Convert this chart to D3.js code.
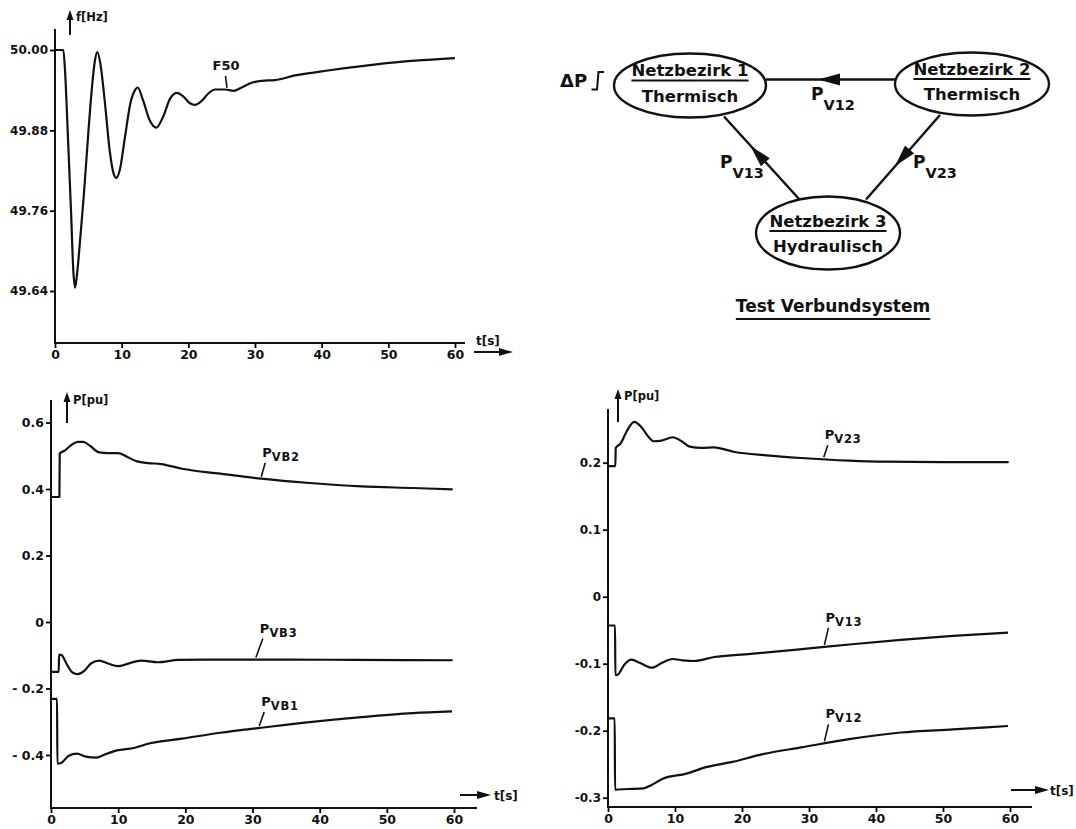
<!DOCTYPE html>
<html>
<head>
<meta charset="utf-8">
<script src="https://cdn.jsdelivr.net/npm/d3@7"></script>
<style>
  body { margin: 0; background: #fff; }
  svg { display: block; background: #fff; }
  text { font-family: "DejaVu Sans", sans-serif; font-weight: bold; fill: #111; }
</style>
</head>
<body>
<svg id="chart" width="1076" height="829"></svg>
<script>
// ---------- data ----------
const timeTicks = [0, 10, 20, 30, 40, 50, 60];

const freqTicks = [50.00, 49.88, 49.76, 49.64];
const freqTickLabels = ["50.00", "49.88", "49.76", "49.64"];

const loadTicks = [0.6, 0.4, 0.2, 0, -0.2, -0.4];
const loadTickLabels = ["0.6", "0.4", "0.2", "0", "- 0.2", "- 0.4"];

const tieTicks = [0.2, 0.1, 0, -0.1, -0.2, -0.3];
const tieTickLabels = ["0.2", "0.1", "0", "-0.1", "-0.2", "-0.3"];

// frequency F50 [t (s), f (Hz)]
const f50 = [[0, 50.0], [1.25, 50.0], [1.5, 49.97], [1.9, 49.88], [2.4, 49.76], [2.75, 49.67],
  [3.0, 49.645], [3.3, 49.665], [3.8, 49.72], [4.3, 49.78], [5.1, 49.89], [5.6, 49.95],
  [6.0, 49.985], [6.35, 49.997], [6.8, 49.98], [7.5, 49.92], [8.2, 49.85], [8.8, 49.815],
  [9.2, 49.809], [9.7, 49.82], [10.5, 49.87], [11.3, 49.92], [12.0, 49.94], [12.4, 49.944],
  [13.2, 49.925], [14.2, 49.895], [15.2, 49.884], [16.2, 49.90], [17.3, 49.928], [18.3, 49.936],
  [19.3, 49.93], [20.3, 49.92], [21.0, 49.918], [22.0, 49.924], [23.0, 49.935], [24.0, 49.941],
  [25.5, 49.941], [26.8, 49.939], [28.0, 49.944], [29.5, 49.951], [31.0, 49.954], [33.0, 49.955],
  [36.0, 49.962], [40.0, 49.968], [43.5, 49.973], [48.5, 49.979], [54.0, 49.984], [60.0, 49.988]];

// district powers [t (s), P (pu)]
const pvb2 = [[0, 0.376], [1.25, 0.376], [1.3, 0.507], [2.0, 0.515], [3.0, 0.532], [4.0, 0.542],
  [4.8, 0.542], [5.8, 0.53], [7.2, 0.510], [8.5, 0.508], [10.0, 0.508], [11.3, 0.497],
  [12.8, 0.483], [14.5, 0.478], [16.4, 0.475], [19.5, 0.461], [25.2, 0.446], [31.3, 0.431],
  [38.5, 0.418], [46.2, 0.408], [53.9, 0.403], [59.8, 0.399]];
const pvb3 = [[0, -0.150], [1.15, -0.150], [1.2, -0.098], [1.6, -0.100], [2.3, -0.125],
  [3.2, -0.152], [4.0, -0.157], [4.9, -0.148], [6.0, -0.124], [7.2, -0.116], [8.5, -0.125],
  [10.0, -0.133], [11.5, -0.125], [13.4, -0.116], [15.9, -0.121], [19.0, -0.114], [25, -0.113],
  [35, -0.113], [45, -0.114], [59.8, -0.115]];
const pvb1 = [[0, -0.231], [0.9, -0.231], [0.95, -0.426], [1.5, -0.424], [2.6, -0.403],
  [3.85, -0.396], [5.2, -0.405], [6.7, -0.408], [8.2, -0.397], [9.8, -0.386], [11.8, -0.381],
  [14.9, -0.364], [19.5, -0.351], [25.2, -0.333], [31.3, -0.318], [38.5, -0.301], [46.2, -0.286],
  [53.9, -0.274], [59.7, -0.269]];

// tie-line powers [t (s), P (pu)]
const pv23 = [[0, 0.195], [1.1, 0.195], [1.15, 0.222], [1.9, 0.229], [2.8, 0.247], [3.9, 0.261],
  [5.0, 0.253], [6.0, 0.239], [6.8, 0.232], [8.0, 0.233], [9.65, 0.238], [11.0, 0.232],
  [12.2, 0.224], [14.0, 0.222], [15.8, 0.223], [18.9, 0.216], [23.6, 0.211], [28.8, 0.207],
  [36, 0.203], [41, 0.2015], [50, 0.201], [59.8, 0.201]];
const pv13 = [[0, -0.043], [1.05, -0.043], [1.1, -0.117], [1.5, -0.116], [2.4, -0.102],
  [3.5, -0.094], [4.8, -0.099], [6.6, -0.106], [8.0, -0.099], [9.65, -0.093], [11.2, -0.095],
  [12.75, -0.096], [15.85, -0.090], [20.5, -0.086], [28.2, -0.079], [36, -0.0713],
  [43.7, -0.0645], [51.5, -0.0585], [59.7, -0.0536]];
const pv12 = [[0, -0.1815], [1.0, -0.1815], [1.05, -0.288], [3, -0.287], [5.3, -0.286],
  [6.5, -0.281], [8.1, -0.272], [11.7, -0.264], [14.8, -0.254], [18.4, -0.247], [23.1, -0.235],
  [28.8, -0.225], [36, -0.2125], [43.7, -0.2027], [51.5, -0.198], [59.7, -0.193]];

// network diagram texts
const districtNames = ["Netzbezirk 1", "Netzbezirk 2", "Netzbezirk 3"];
const districtTypes = ["Thermisch", "Thermisch", "Hydraulisch"];
const tieLineNames = ["V12", "V13", "V23"];
const systemTitle = "Test Verbundsystem";

// ---------- drawing ----------
const svg = d3.select("#chart");
const INK = "#111";

function arrowHead(g, tipX, tipY, fromX, fromY, len, halfW) {
  const dx = tipX - fromX, dy = tipY - fromY, L = Math.hypot(dx, dy);
  const ux = dx / L, uy = dy / L;
  const bx = tipX - ux * len, by = tipY - uy * len;
  g.append("path")
    .attr("d", `M${tipX},${tipY}L${bx - uy * halfW},${by + ux * halfW}L${bx + uy * halfW},${by - ux * halfW}Z`)
    .attr("fill", INK);
}

function interp(series, t) {
  for (let i = 1; i < series.length; i++) {
    if (series[i][0] >= t) {
      const [t0, v0] = series[i - 1], [t1, v1] = series[i];
      return v0 + (v1 - v0) * (t - t0) / (t1 - t0);
    }
  }
  return series[series.length - 1][1];
}

function drawPanel(p) {
  const x = d3.scaleLinear([0, 60], [p.x0, p.x1]);
  const y = d3.scaleLinear(p.yDomain, p.yRange);
  const g = svg.append("g");

  // axis lines
  g.append("line").attr("x1", p.x0).attr("x2", p.x0).attr("y1", p.yTop).attr("y2", p.axisY + 1)
    .attr("stroke", INK).attr("stroke-width", 2);
  g.append("line").attr("x1", p.x0 - 1).attr("x2", p.xEnd).attr("y1", p.axisY).attr("y2", p.axisY)
    .attr("stroke", INK).attr("stroke-width", 2);

  const yAxis = d3.axisLeft(y).tickValues(p.yTicks)
    .tickFormat((d, i) => p.yLabels[i]).tickSize(5).tickPadding(2);
  g.append("g").attr("transform", `translate(${p.x0},0)`).call(yAxis)
    .call(s => s.select(".domain").remove())
    .call(s => s.selectAll("line").attr("stroke-width", 1.8))
    .call(s => s.selectAll("text").attr("font-size", p.tickFont).attr("font-family", "DejaVu Sans")
      .attr("font-weight", "bold").style("fill", INK));

  const xAxis = d3.axisBottom(x).tickValues(timeTicks).tickSize(5).tickPadding(2);
  g.append("g").attr("transform", `translate(0,${p.axisY})`).call(xAxis)
    .call(s => s.select(".domain").remove())
    .call(s => s.selectAll("line").attr("stroke-width", 1.8))
    .call(s => s.selectAll("text").attr("font-size", 12.5).attr("font-family", "DejaVu Sans")
      .attr("font-weight", "bold").style("fill", INK));

  // y-axis quantity with upward arrow
  g.append("line").attr("x1", p.yArrowX).attr("x2", p.yArrowX)
    .attr("y1", p.yArrowY0).attr("y2", p.yArrowY1 + 6)
    .attr("stroke", INK).attr("stroke-width", 2);
  arrowHead(g, p.yArrowX, p.yArrowY1, p.yArrowX, p.yArrowY0, 10, 3.5);
  g.append("text").attr("x", p.yArrowX + 6).attr("y", p.yLabelY)
    .attr("font-size", 11.5).text(p.yTitle);

  // time arrow
  g.append("line").attr("x1", p.tArrowX0).attr("x2", p.tArrowX1 - 8)
    .attr("y1", p.tArrowY).attr("y2", p.tArrowY).attr("stroke", INK).attr("stroke-width", 2);
  arrowHead(g, p.tArrowX1, p.tArrowY, p.tArrowX0, p.tArrowY, 14, 4);
  g.append("text").attr("x", p.tLabelX).attr("y", p.tLabelY).attr("font-size", 12).text("t[s]");

  const line = d3.line().x(d => x(d[0])).y(d => y(d[1])).curve(d3.curveMonotoneX);
  p.series.forEach(s => {
    g.append("path").datum(s.data).attr("d", line)
      .attr("fill", "none").attr("stroke", INK).attr("stroke-width", 2.2)
      .attr("stroke-linejoin", "round");

    // leader line and name
    const bx = x(s.labelT), by = y(interp(s.data, s.labelT)) - 2;
    const tx = bx + s.lean, ty = by - s.rise;
    g.append("line").attr("x1", bx).attr("y1", by).attr("x2", tx).attr("y2", ty)
      .attr("stroke", INK).attr("stroke-width", 1.6);
    const t = g.append("text").attr("x", tx + s.dx).attr("y", ty - 6).attr("font-size", 13);
    t.append("tspan").text(s.main);
    if (s.sub) t.append("tspan").attr("dy", 4).attr("font-size", 11.5)
      .attr("letter-spacing", 0.8).text(s.sub);
  });
}

// frequency panel
drawPanel({
  x0: 55, x1: 455, xEnd: 465, axisY: 343, yTop: 29,
  yDomain: [49.64, 50.00], yRange: [291, 50],
  yTicks: freqTicks, yLabels: freqTickLabels, tickFont: 12,
  yArrowX: 70, yArrowY0: 35, yArrowY1: 10, yLabelY: 21, yTitle: "f[Hz]",
  tArrowX0: 474, tArrowX1: 513, tArrowY: 352, tLabelX: 476, tLabelY: 345,
  series: [{ data: f50, labelT: 25.8, lean: -1.5, rise: 12, dx: -13, main: "F50" }]
});

// district power panel
drawPanel({
  x0: 51, x1: 454, xEnd: 477, axisY: 808, yTop: 400,
  yDomain: [-0.4, 0.6], yRange: [755, 422.5],
  yTicks: loadTicks, yLabels: loadTickLabels, tickFont: 12.5,
  yArrowX: 67, yArrowY0: 423, yArrowY1: 392, yLabelY: 404, yTitle: "P[pu]",
  tArrowX0: 460, tArrowX1: 491, tArrowY: 795, tLabelX: 494, tLabelY: 800,
  series: [
    { data: pvb2, labelT: 31.3, lean: 4, rise: 14, dx: -3, main: "P", sub: "VB2" },
    { data: pvb3, labelT: 30.5, lean: 7, rise: 19, dx: -3, main: "P", sub: "VB3" },
    { data: pvb1, labelT: 31.0, lean: 5, rise: 14, dx: -3, main: "P", sub: "VB1" }
  ]
});

// tie-line power panel
drawPanel({
  x0: 608, x1: 1010, xEnd: 1032, axisY: 807, yTop: 409,
  yDomain: [-0.3, 0.2], yRange: [797.7, 462.7],
  yTicks: tieTicks, yLabels: tieTickLabels, tickFont: 12,
  yArrowX: 618, yArrowY0: 422, yArrowY1: 389, yLabelY: 400, yTitle: "P[pu]",
  tArrowX0: 1011, tArrowX1: 1049, tArrowY: 790, tLabelX: 1050, tLabelY: 795,
  series: [
    { data: pv23, labelT: 32.2, lean: 4, rise: 12, dx: -3, main: "P", sub: "V23" },
    { data: pv13, labelT: 32.3, lean: 4, rise: 17, dx: -3, main: "P", sub: "V13" },
    { data: pv12, labelT: 32.3, lean: 4, rise: 17, dx: -3, main: "P", sub: "V12" }
  ]
});

// ---------- network diagram ----------
const dg = svg.append("g");
const nodes = [
  { cx: 690, cy: 85.5, rx: 76, ry: 32 },
  { cx: 972, cy: 84, rx: 77, ry: 31.5 },
  { cx: 828, cy: 233, rx: 72, ry: 36.5 }
];
const links = [
  { x1: 895, y1: 79.5, x2: 766, y2: 79.5, tip: [818, 79.5], lx: 811, ly: 100 },
  { x1: 799.5, y1: 199.5, x2: 724, y2: 116.5, tip: [750.5, 146], lx: 720, ly: 168 },
  { x1: 940, y1: 115, x2: 866, y2: 199.5, tip: [895, 166], lx: 913, ly: 168 }
];

links.forEach((l, i) => {
  dg.append("line").attr("x1", l.x1).attr("y1", l.y1).attr("x2", l.x2).attr("y2", l.y2)
    .attr("stroke", INK).attr("stroke-width", 2.4);
  arrowHead(dg, l.tip[0], l.tip[1], l.x1, l.y1, 22, 6);
  const t = dg.append("text").attr("x", l.lx).attr("y", l.ly).attr("font-size", 17);
  t.append("tspan").text("P");
  t.append("tspan").attr("dy", 10).attr("font-size", 14.5).text(tieLineNames[i]);
});

nodes.forEach((n, i) => {
  dg.append("ellipse").attr("cx", n.cx).attr("cy", n.cy).attr("rx", n.rx).attr("ry", n.ry)
    .attr("fill", "#fff").attr("stroke", INK).attr("stroke-width", 2.4);
  const nameY = n.cy - (i === 2 ? 6.5 : 9.5);
  const name = dg.append("text").attr("x", n.cx).attr("y", nameY).attr("text-anchor", "middle")
    .attr("font-size", 16.5).text(districtNames[i]);
  const w = name.node().getComputedTextLength();
  dg.append("line").attr("x1", n.cx - w / 2).attr("x2", n.cx + w / 2)
    .attr("y1", nameY + 4.5).attr("y2", nameY + 4.5).attr("stroke", INK).attr("stroke-width", 1.8);
  dg.append("text").attr("x", n.cx).attr("y", nameY + 25.5).attr("text-anchor", "middle")
    .attr("font-size", 16.5).text(districtTypes[i]);
});

// load step ΔP at district 1
dg.append("text").attr("x", 560).attr("y", 87).attr("font-size", 18).text("ΔP");
dg.append("path").attr("d", "M591.5,89.5H597L598.5,72H604")
  .attr("fill", "none").attr("stroke", INK).attr("stroke-width", 2);

// title of the interconnected system
const title = dg.append("text").attr("x", 833).attr("y", 311.5).attr("text-anchor", "middle")
  .attr("font-size", 17).text(systemTitle);
const tw = title.node().getComputedTextLength();
dg.append("line").attr("x1", 833 - tw / 2).attr("x2", 833 + tw / 2)
  .attr("y1", 319).attr("y2", 319).attr("stroke", INK).attr("stroke-width", 1.8);
</script>
</body>
</html>
